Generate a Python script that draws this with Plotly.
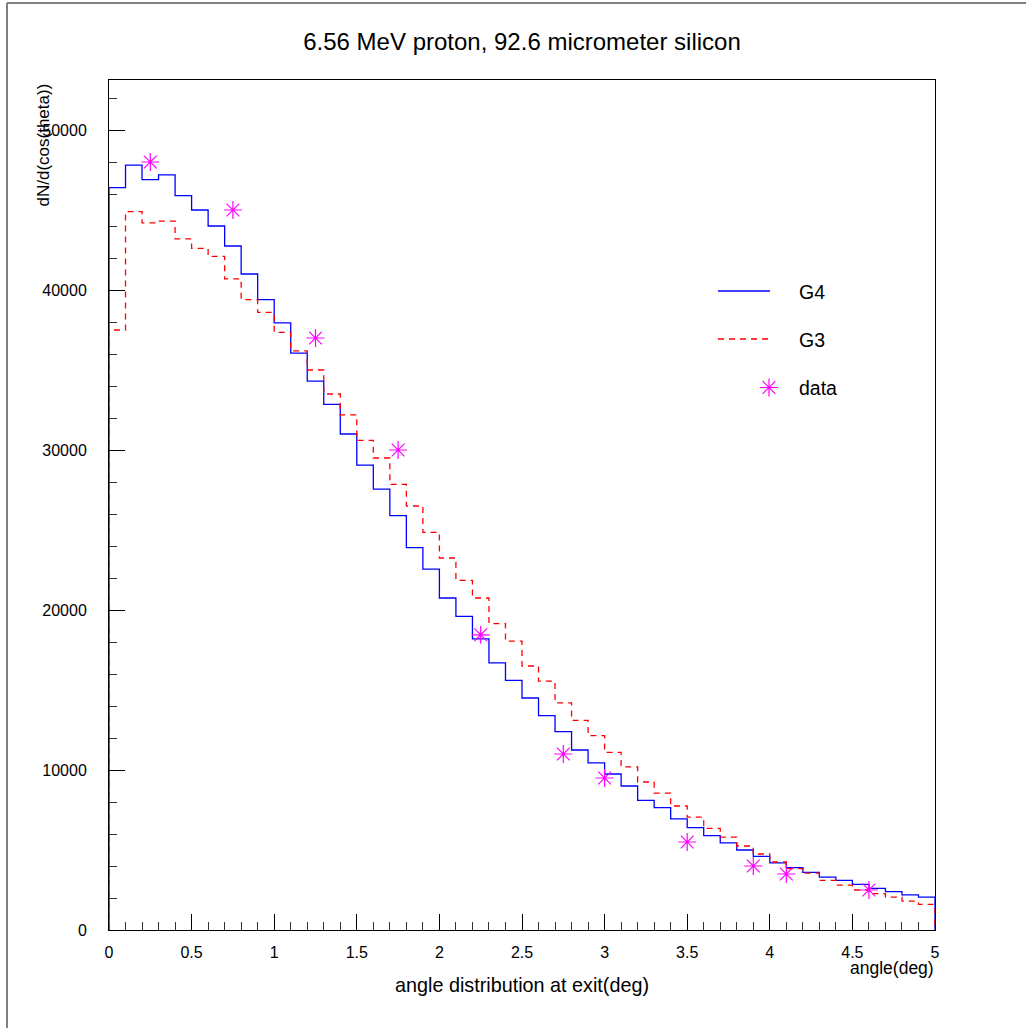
import plotly.graph_objects as go

# ---- data ----
bin_edges = [round(i * 0.1, 1) for i in range(51)]
g4_counts = [46400, 47800, 46900, 47200, 45900, 45000, 44000, 42750, 41000, 39400,
             37950, 36050, 34300, 32850, 31000, 29050, 27550, 25900, 23900, 22550,
             20750, 19600, 18200, 16700, 15600, 14500, 13400, 12400, 11250, 10450,
             9750, 9000, 8100, 7650, 6950, 6400, 5900, 5450, 5000, 4600,
             4200, 3900, 3600, 3300, 3100, 2850, 2600, 2400, 2200, 2050]
g3_counts = [37500, 44900, 44200, 44300, 43200, 42600, 42100, 40700, 39400, 38600,
             37350, 36200, 35000, 33500, 32200, 30600, 29500, 27850, 26500, 24850,
             23250, 21850, 20750, 19150, 18050, 16500, 15550, 14200, 13100, 12150,
             11100, 10200, 9250, 8550, 7750, 7050, 6350, 5800, 5250, 4750,
             4250, 3830, 3550, 3100, 2800, 2500, 2270, 2050, 1800, 1600]
data_x = [0.25, 0.75, 1.25, 1.75, 2.25, 2.75, 3.0, 3.5, 3.9, 4.1, 4.6]
data_y = [48000, 45000, 37000, 30000, 18450, 11000, 9500, 5500, 4000, 3500, 2500]
x_ticks = [0, 0.5, 1, 1.5, 2, 2.5, 3, 3.5, 4, 4.5, 5]
x_tick_labels = ["0", "0.5", "1", "1.5", "2", "2.5", "3", "3.5", "4", "4.5", "5"]
y_ticks = [0, 10000, 20000, 30000, 40000, 50000]
y_tick_labels = ["0", "10000", "20000", "30000", "40000", "50000"]

FONT = "Liberation Sans, Arial, Helvetica, sans-serif"
W, H = 1026, 1028
L, R, T, B = 109, 91, 80, 98
PW, PH = W - L - R, H - T - B


def px(xp):
    return (xp - L) / PW


def py(yp):
    return (H - B - yp) / PH


def step(counts):
    xs = [bin_edges[0]] + bin_edges + [bin_edges[-1]]
    ys = [0] + counts + [counts[-1], 0]
    return xs, ys


fig = go.Figure()
gx, gy = step(g4_counts)
fig.add_trace(go.Scatter(x=gx, y=gy, mode="lines", line=dict(color="#0000ff", width=1.3, shape="hv"),
                         name="G4", showlegend=False))
rx, ry = step(g3_counts)
fig.add_trace(go.Scatter(x=rx, y=ry, mode="lines",
                         line=dict(color="#ff0000", width=1.3, shape="hv", dash="6px,5px"),
                         name="G3", showlegend=False))
fig.add_trace(go.Scatter(x=data_x, y=data_y, mode="markers",
                         marker=dict(symbol="asterisk-open", size=15, color="#ff00ff",
                                     line=dict(color="#ff00ff", width=1.2)),
                         name="data", showlegend=False, cliponaxis=False))

# legend marker on an overlay axis with paper-like range
fig.add_trace(go.Scatter(x=[px(769)], y=[py(387.5)], mode="markers", xaxis="x2", yaxis="y2",
                         marker=dict(symbol="asterisk-open", size=15, color="#ff00ff",
                                     line=dict(color="#ff00ff", width=1.2)),
                         showlegend=False, hoverinfo="skip", cliponaxis=False))

axis_common = dict(showgrid=False, zeroline=False, showline=True, linecolor="#000000",
                   linewidth=1, mirror=True, ticks="inside", tickcolor="#000000",
                   ticklen=16, tickwidth=1, tickfont=dict(family=FONT, size=16, color="#000000"))

fig.update_layout(
    width=W, height=H,
    margin=dict(l=L, r=R, t=T, b=B),
    paper_bgcolor="white", plot_bgcolor="white",
    showlegend=False,
    title=dict(text="6.56 MeV proton, 92.6 micrometer silicon", x=0.5, xanchor="center",
               xref="paper", y=1 - 42 / H, yanchor="middle", yref="container",
               font=dict(family=FONT, size=24, color="#000000")),
    xaxis=dict(range=[0, 5], tickvals=x_ticks, ticktext=x_tick_labels,
               minor=dict(dtick=0.1, tick0=0, ticks="inside", ticklen=8, tickcolor="#333333"),
               ticklabelstandoff=8, **axis_common),
    yaxis=dict(range=[0, 53125], tickvals=y_ticks, ticktext=y_tick_labels,
               minor=dict(dtick=2000, tick0=0, ticks="inside", ticklen=8, tickcolor="#333333"),
               ticklabelstandoff=18, **axis_common),
    xaxis2=dict(range=[0, 1], overlaying="x", visible=False),
    yaxis2=dict(range=[0, 1], overlaying="y", visible=False),
)

shapes = [
    # canvas border (left / top)
    dict(type="line", xref="paper", yref="paper", x0=px(7), x1=px(7), y0=py(3), y1=py(1028),
         line=dict(color="#808080", width=2)),
    dict(type="line", xref="paper", yref="paper", x0=px(7), x1=px(1026), y0=py(3), y1=py(3),
         line=dict(color="#808080", width=2)),
    # legend lines
    dict(type="line", xref="paper", yref="paper", x0=px(718), x1=px(770), y0=py(291), y1=py(291),
         line=dict(color="#0000ff", width=1.3)),
    dict(type="line", xref="paper", yref="paper", x0=px(718), x1=px(770), y0=py(339), y1=py(339),
         line=dict(color="#ff0000", width=1.3, dash="6px,5px")),
]
fig.update_layout(shapes=shapes)

ann = [
    dict(text="G4", x=px(797), y=py(292), xanchor="left", yanchor="middle"),
    dict(text="G3", x=px(797), y=py(340), xanchor="left", yanchor="middle"),
    dict(text="data", x=px(797), y=py(388), xanchor="left", yanchor="middle"),
]
annotations = []
for a in ann:
    a.update(xref="paper", yref="paper", showarrow=False,
             font=dict(family=FONT, size=19.5, color="#000000"))
    annotations.append(a)
annotations.append(dict(text="angle distribution at exit(deg)", x=px(522), y=py(985),
                        xref="paper", yref="paper", xanchor="center", yanchor="middle",
                        showarrow=False, font=dict(family=FONT, size=19.8, color="#000000")))
annotations.append(dict(text="angle(deg)", x=px(936), y=py(968), xref="paper", yref="paper",
                        xanchor="right", yanchor="middle", showarrow=False,
                        font=dict(family=FONT, size=17.5, color="#000000")))
annotations.append(dict(text="dN/d(cos(theta))", x=px(43), y=py(82), xref="paper", yref="paper",
                        xanchor="center", yanchor="top", textangle=-90, showarrow=False,
                        font=dict(family=FONT, size=17, color="#000000")))
fig.update_layout(annotations=annotations)

fig.write_html("out.html")
